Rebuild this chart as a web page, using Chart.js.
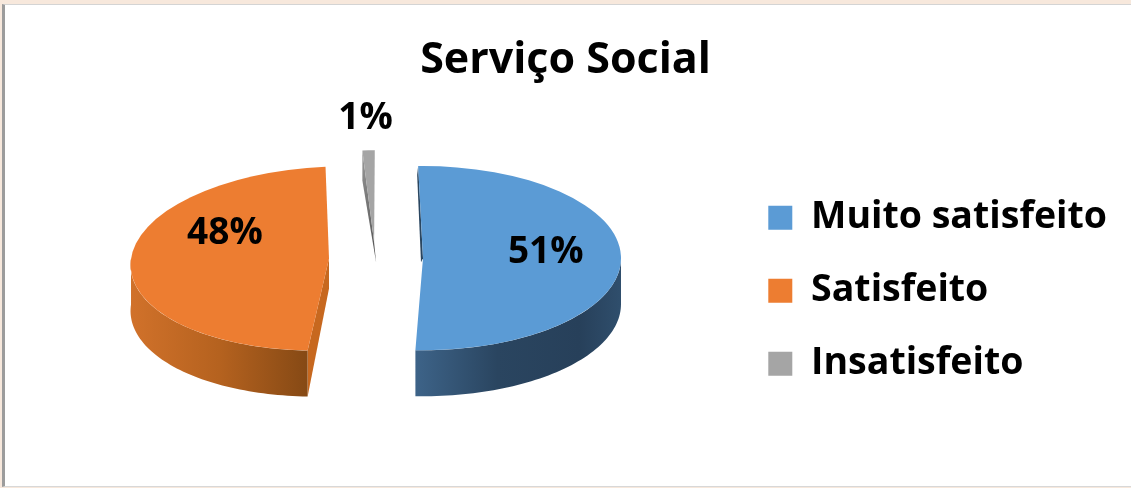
<!DOCTYPE html>
<html>
<head>
<meta charset="utf-8">
<style>
  html, body { margin: 0; height: 100%; background: #f7e8dc; overflow: hidden; }
  #folha { position: absolute; left: 2px; top: 4px; width: 1129px; height: 483px; box-sizing: border-box;
           background: #fff; border-left: 3px solid #9c9c9c; border-top: 1px solid #d4d4d4; border-bottom: 1px solid #d8d8d8; }
  #grafico { position: absolute; left: 0; top: 0; }
</style>
</head>
<body>
<div id="folha"></div>
<canvas id="grafico" width="1131" height="488"></canvas>
<script src="https://cdn.jsdelivr.net/npm/chart.js@4"></script>
<script>
const categorias = ['Muito satisfeito', 'Satisfeito', 'Insatisfeito'];
const valores = [51, 48, 1];
const rotulos = ['51%', '48%', '1%'];

const cores = ['#5B9BD5', '#ED7D31', '#A5A5A5'];

// falso 3D: centro e achatamento da pizza
const centroX = 376, centroY = 258, achatado = 0.465, altura = 46;
const explode = [47, 47, 34];
const inclina = [0, -0.15, -0.06];
// posicao dos rotulos: fracao do raio + ajuste
const rotuloRaio = [0.62, 0.525, 1.37];
const rotuloAjuste = [[0, -6], [0, -26], [-1, 2]];

function base(arc, i) {
  const meio = (arc.startAngle + arc.endAngle) / 2;
  return { ax: Math.cos(meio) * explode[i], ay: Math.sin(meio) * explode[i] * achatado, k: inclina[i] };
}

function ponto(arc, i, ang, r) {
  const b = base(arc, i);
  return {
    x: centroX + b.ax + Math.cos(ang) * r + b.k * Math.sin(ang) * r * achatado,
    y: centroY + b.ay + Math.sin(ang) * r * achatado
  };
}

function poligono(ctx, pts, fill) {
  ctx.beginPath();
  pts.forEach((p, n) => n ? ctx.lineTo(p.x, p.y) : ctx.moveTo(p.x, p.y));
  ctx.closePath();
  ctx.fillStyle = fill;
  ctx.fill();
}

function faixa(ctx, x0, x1, paradas) {
  const g = ctx.createLinearGradient(x0, 0, x1, 0);
  paradas.forEach(p => g.addColorStop(p[0], p[1]));
  return g;
}

function borda(ctx, arc, i, de, ate, fill) {
  const cima = [], baixo = [];
  for (let n = 0; n <= 60; n++) {
    const p = ponto(arc, i, de + (ate - de) * n / 60, arc.outerRadius);
    cima.push(p);
    baixo.unshift({ x: p.x, y: p.y + altura });
  }
  poligono(ctx, cima.concat(baixo), fill);
}

const pizza3d = {
  id: 'pizza3d',
  beforeDatasetsDraw(chart) {
    const ctx = chart.ctx;
    const arcs = chart.getDatasetMeta(0).data;
    const [azul, laranja, cinza] = arcs;
    const R = azul.outerRadius;

    // lateral cinza
    const c0 = ponto(cinza, 2, cinza.startAngle, R), c1 = ponto(cinza, 2, 0, 0);
    const gc = ctx.createLinearGradient(0, c0.y, 0, c1.y + 20);
    gc.addColorStop(0, '#9a9a9a');
    gc.addColorStop(1, '#4f4f4f');
    poligono(ctx, [c0, c1, { x: c1.x + 2, y: c1.y + 20 }, { x: c0.x, y: c0.y + 30 }], gc);

    // lateral laranja
    const l0 = ponto(laranja, 1, laranja.startAngle, R), l1 = ponto(laranja, 1, 0, 0);
    poligono(ctx, [l1, l0, { x: l0.x, y: l0.y + altura }, { x: l1.x, y: l1.y + 30 }], '#C7681F');
    borda(ctx, laranja, 1, laranja.startAngle, Math.PI, faixa(ctx, 133, 305, [[0, '#D0712A'], [0.5, '#B5621F'], [1, '#874A15']]));

    // lateral azul
    const a0 = ponto(azul, 0, azul.startAngle, R), a1 = ponto(azul, 0, 0, 0);
    poligono(ctx, [a0, a1, { x: a1.x - 2, y: a1.y + 4 }, { x: a0.x - 1, y: a0.y + 9 }], '#2A4660');
    borda(ctx, azul, 0, 0, azul.endAngle, faixa(ctx, 416, 620, [[0, '#3D6388'], [0.4, '#2A4560'], [0.8, '#27405A'], [1, '#2F4E6C']]));

    // faces de cima, desenhadas pelo proprio arco
    arcs.forEach((arc, i) => {
      const b = base(arc, i);
      const c = b.k * achatado;
      ctx.save();
      ctx.transform(1, 0, c, achatado, centroX + b.ax - arc.x - c * arc.y, centroY + b.ay - achatado * arc.y);
      arc.draw(ctx);
      ctx.restore();
    });
    return false;
  },
  afterDraw(chart) {
    const ctx = chart.ctx;
    ctx.save();
    ctx.font = 'bold 37px "Open Sans"';
    ctx.fillStyle = '#000';
    ctx.textAlign = 'center';
    ctx.textBaseline = 'middle';
    chart.getDatasetMeta(0).data.forEach((arc, i) => {
      const meio = (arc.startAngle + arc.endAngle) / 2;
      const p = ponto(arc, i, meio, arc.outerRadius * rotuloRaio[i]);
      ctx.fillText(rotulos[i], p.x + rotuloAjuste[i][0], p.y + rotuloAjuste[i][1]);
    });
    ctx.restore();
  }
};

new Chart(document.getElementById('grafico'), {
  type: 'pie',
  data: {
    labels: categorias,
    datasets: [{
      data: valores,
      backgroundColor: cores,
      borderWidth: 0,
      clip: false
    }]
  },
  plugins: [pizza3d],
  options: {
    responsive: false,
    animation: false,
    rotation: -1.4,
    radius: 198,
    layout: { padding: { left: 14, right: 14 } },
    plugins: {
      tooltip: { enabled: false },
      title: {
        display: true,
        text: 'Serviço Social',
        color: '#000',
        font: { family: 'Open Sans', size: 43, weight: 'bold' },
        padding: { top: 35, bottom: 7 }
      },
      legend: {
        position: 'right',
        fullSize: false,
        labels: {
          color: '#000',
          font: { family: 'Open Sans', size: 37.5, weight: 'bold' },
          boxWidth: 24,
          boxHeight: 24,
          padding: 35.5
        }
      }
    }
  }
});
</script>
</body>
</html>
